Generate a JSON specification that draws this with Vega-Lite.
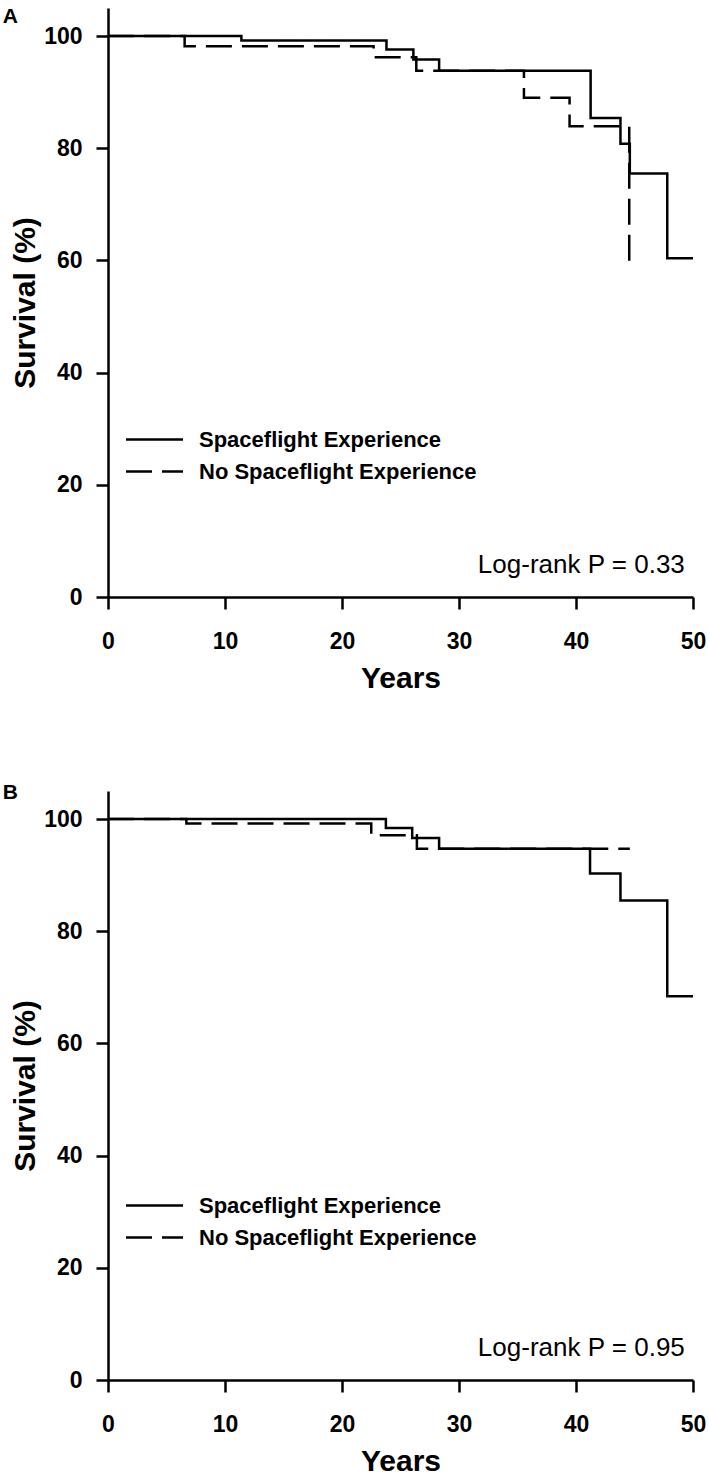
{
  "$schema": "https://vega.github.io/schema/vega-lite/v6.json",
  "background": "white",
  "padding": {"left": 2, "top": 6, "right": 2, "bottom": 2},
  "spacing": 89,
  "resolve": {"scale": {"strokeDash": "independent"}, "legend": {"strokeDash": "independent"}},
  "datasets": {
    "km": [
      {"panel": "A", "group": "Spaceflight Experience", "years": 0, "survival": 100},
      {"panel": "A", "group": "Spaceflight Experience", "years": 11.4, "survival": 99.2},
      {"panel": "A", "group": "Spaceflight Experience", "years": 23.8, "survival": 97.6},
      {"panel": "A", "group": "Spaceflight Experience", "years": 26.1, "survival": 95.8},
      {"panel": "A", "group": "Spaceflight Experience", "years": 28.3, "survival": 93.8},
      {"panel": "A", "group": "Spaceflight Experience", "years": 41.25, "survival": 85.4},
      {"panel": "A", "group": "Spaceflight Experience", "years": 43.8, "survival": 80.8},
      {"panel": "A", "group": "Spaceflight Experience", "years": 44.6, "survival": 75.5},
      {"panel": "A", "group": "Spaceflight Experience", "years": 47.8, "survival": 60.4},
      {"panel": "A", "group": "Spaceflight Experience", "years": 50, "survival": 60.4},
      {"panel": "A", "group": "No Spaceflight Experience", "years": 0, "survival": 100},
      {"panel": "A", "group": "No Spaceflight Experience", "years": 6.55, "survival": 98.2},
      {"panel": "A", "group": "No Spaceflight Experience", "years": 22.7, "survival": 96.2},
      {"panel": "A", "group": "No Spaceflight Experience", "years": 26.35, "survival": 93.8},
      {"panel": "A", "group": "No Spaceflight Experience", "years": 35.55, "survival": 89.0},
      {"panel": "A", "group": "No Spaceflight Experience", "years": 39.45, "survival": 83.9},
      {"panel": "A", "group": "No Spaceflight Experience", "years": 44.55, "survival": 59.6},
      {"panel": "B", "group": "Spaceflight Experience", "years": 0, "survival": 100},
      {"panel": "B", "group": "Spaceflight Experience", "years": 23.75, "survival": 98.4},
      {"panel": "B", "group": "Spaceflight Experience", "years": 26.0, "survival": 96.6},
      {"panel": "B", "group": "Spaceflight Experience", "years": 28.3, "survival": 94.7},
      {"panel": "B", "group": "Spaceflight Experience", "years": 41.2, "survival": 90.3},
      {"panel": "B", "group": "Spaceflight Experience", "years": 43.8, "survival": 85.5},
      {"panel": "B", "group": "Spaceflight Experience", "years": 47.8, "survival": 68.4},
      {"panel": "B", "group": "Spaceflight Experience", "years": 50, "survival": 68.4},
      {"panel": "B", "group": "No Spaceflight Experience", "years": 0, "survival": 100},
      {"panel": "B", "group": "No Spaceflight Experience", "years": 6.7, "survival": 99.2},
      {"panel": "B", "group": "No Spaceflight Experience", "years": 22.5, "survival": 97.1},
      {"panel": "B", "group": "No Spaceflight Experience", "years": 26.4, "survival": 94.7},
      {"panel": "B", "group": "No Spaceflight Experience", "years": 44.6, "survival": 94.7}
    ],
    "notes": [
      {"panel": "A", "label": "Log-rank P = 0.33"},
      {"panel": "B", "label": "Log-rank P = 0.95"}
    ]
  },
  "config": {
    "font": "Liberation Sans",
    "view": {"stroke": null},
    "axis": {
      "grid": false,
      "domainColor": "black",
      "domainWidth": 2.5,
      "tickColor": "black",
      "tickWidth": 2.5,
      "tickSize": 12,
      "labelFont": "Liberation Sans",
      "labelFontSize": 23,
      "labelFontWeight": "bold",
      "labelColor": "black",
      "labelFlush": false,
      "labelOverlap": false,
      "titleFont": "Liberation Sans",
      "titleFontSize": 30,
      "titleFontWeight": "bold",
      "titleColor": "black"
    },
    "legend": {
      "symbolType": "M-1.5,0H1.5",
      "symbolSize": 1444,
      "symbolStrokeWidth": 2.5,
      "symbolStrokeColor": "black",
      "symbolFillColor": "transparent",
      "labelFont": "Liberation Sans",
      "labelFontSize": 22,
      "labelFontWeight": "bold",
      "labelColor": "black",
      "labelOffset": 24,
      "labelLimit": 0,
      "padding": 0,
      "rowPadding": 0
    },
    "title": {
      "font": "Liberation Sans",
      "fontSize": 21,
      "fontWeight": "bold",
      "color": "black",
      "anchor": "start",
      "frame": "bounds"
    }
  },
  "vconcat": [
    {
      "width": 585,
      "height": 589,
      "title": {"text": "A", "dx": -8, "dy": 23, "offset": -13, "baseline": "alphabetic"},
      "layer": [
        {
          "data": {"name": "km"},
          "transform": [{"filter": "datum.panel === 'A'"}],
          "mark": {"type": "line", "interpolate": "step-after", "strokeWidth": 2.5, "color": "black", "strokeCap": "butt"},
          "encoding": {
            "x": {"field": "years", "type": "quantitative", "scale": {"domain": [0, 50], "nice": false},
                  "axis": {"values": [0, 10, 20, 30, 40, 50], "title": "Years", "labelPadding": 21, "titlePadding": 10}},
            "y": {"field": "survival", "type": "quantitative", "scale": {"domain": [0, 105], "nice": false},
                  "axis": {"values": [0, 20, 40, 60, 80, 100], "title": "Survival (%)", "labelPadding": 14, "titlePadding": 3}},
            "strokeDash": {"field": "group", "type": "nominal",
                  "scale": {"domain": ["Spaceflight Experience", "No Spaceflight Experience"], "range": [[1, 0], [26, 10]]},
                  "legend": {"title": null, "orient": "none", "legendX": 26, "legendY": 411}}
          }
        },
        {
          "data": {"name": "notes"},
          "transform": [{"filter": "datum.panel === 'A'"}],
          "mark": {"type": "text", "align": "right", "baseline": "middle", "fontSize": 26, "font": "Liberation Sans", "color": "black"},
          "encoding": {
            "x": {"datum": 49.3, "type": "quantitative"},
            "y": {"datum": 5.7, "type": "quantitative"},
            "text": {"field": "label"}
          }
        }
      ]
    },
    {
      "width": 585,
      "height": 589,
      "title": {"text": "B", "dx": -8, "dy": 16, "offset": -13, "baseline": "alphabetic"},
      "layer": [
        {
          "data": {"name": "km"},
          "transform": [{"filter": "datum.panel === 'B'"}],
          "mark": {"type": "line", "interpolate": "step-after", "strokeWidth": 2.5, "color": "black", "strokeCap": "butt"},
          "encoding": {
            "x": {"field": "years", "type": "quantitative", "scale": {"domain": [0, 50], "nice": false},
                  "axis": {"values": [0, 10, 20, 30, 40, 50], "title": "Years", "labelPadding": 21, "titlePadding": 10}},
            "y": {"field": "survival", "type": "quantitative", "scale": {"domain": [0, 105], "nice": false},
                  "axis": {"values": [0, 20, 40, 60, 80, 100], "title": "Survival (%)", "labelPadding": 14, "titlePadding": 3}},
            "strokeDash": {"field": "group", "type": "nominal",
                  "scale": {"domain": ["Spaceflight Experience", "No Spaceflight Experience"], "range": [[1, 0], [26, 10]]},
                  "legend": {"title": null, "orient": "none", "legendX": 26, "legendY": 394}}
          }
        },
        {
          "data": {"name": "notes"},
          "transform": [{"filter": "datum.panel === 'B'"}],
          "mark": {"type": "text", "align": "right", "baseline": "middle", "fontSize": 26, "font": "Liberation Sans", "color": "black"},
          "encoding": {
            "x": {"datum": 49.3, "type": "quantitative"},
            "y": {"datum": 5.7, "type": "quantitative"},
            "text": {"field": "label"}
          }
        }
      ]
    }
  ]
}
